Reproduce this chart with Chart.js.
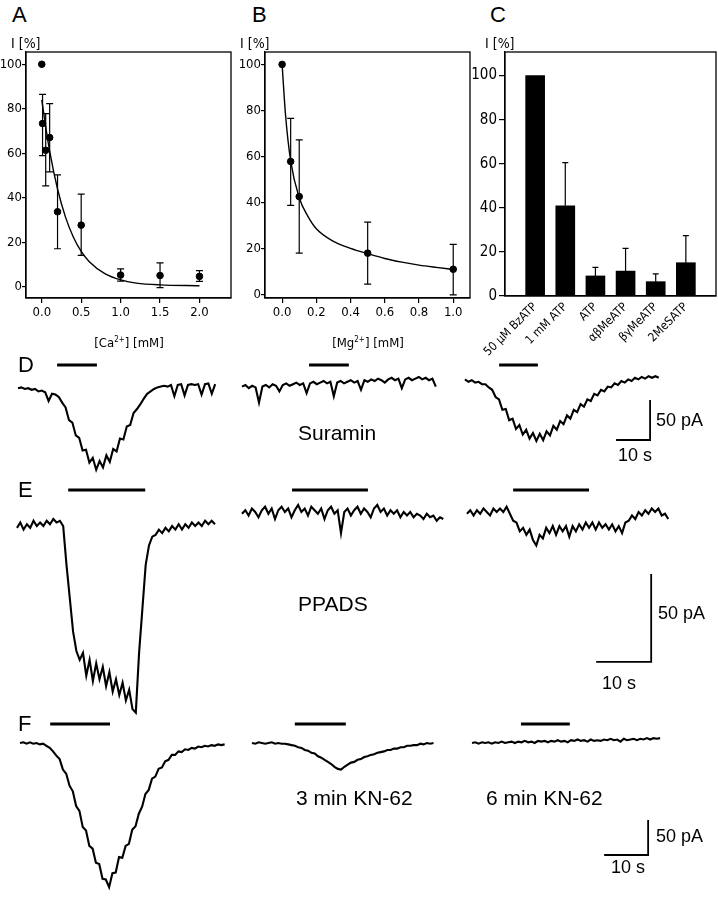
<!DOCTYPE html>
<html>
<head>
<meta charset="utf-8">
<script src="https://cdn.jsdelivr.net/npm/chart.js@4.4.1/dist/chart.umd.min.js"></script>
<style>
  body { margin: 0; background: #fff; }
  #fig { position: relative; width: 718px; height: 899px; overflow: hidden; background: #fff; }
  canvas { position: absolute; }
  .t { position: absolute; white-space: nowrap; line-height: 1; color: #000;
       font-family: 'Liberation Sans', Arial, Helvetica, sans-serif; }
  .n { font-family: 'Liberation Sans Narrow', 'Arial Narrow', 'DejaVu Sans Condensed', 'Liberation Sans', sans-serif; }
  .big { font-size: 22px; }
  .lab { font-size: 21px; }
  .sc { font-size: 18px; }
  sup { font-size: 8px; line-height: 0; }
</style>
</head>
<body>
<div id="fig">
  <canvas id="chartA" width="240" height="305" style="left:0;top:30px"></canvas>
  <canvas id="chartB" width="240" height="305" style="left:235px;top:30px"></canvas>
  <canvas id="chartC" width="250" height="330" style="left:468px;top:30px"></canvas>
  <canvas id="rowD" width="718" height="120" style="left:0;top:355px"></canvas>
  <canvas id="rowE" width="718" height="240" style="left:0;top:480px"></canvas>
  <canvas id="rowF" width="718" height="184" style="left:0;top:715px"></canvas>

  <div class="t big" style="left:12px;top:4px">A</div>
  <div class="t big" style="left:252px;top:4px">B</div>
  <div class="t big" style="left:490px;top:4px">C</div>
  <div class="t n" style="left:11px;top:36px;font-size:14px">I [%]</div>
  <div class="t n" style="left:240px;top:36px;font-size:14px">I [%]</div>
  <div class="t n" style="left:485px;top:36px;font-size:14px">I [%]</div>
  <div class="t n" style="left:129px;top:336px;font-size:13px;transform:translateX(-50%)">[Ca<sup>2+</sup>] [mM]</div>
  <div class="t n" style="left:368px;top:336px;font-size:13px;transform:translateX(-50%)">[Mg<sup>2+</sup>] [mM]</div>

  <div class="t big" style="left:18px;top:354px">D</div>
  <div class="t big" style="left:18px;top:479px">E</div>
  <div class="t big" style="left:18px;top:713px">F</div>

  <div class="t lab" style="left:298px;top:422px">Suramin</div>
  <div class="t sc" style="left:656px;top:411px">50 pA</div>
  <div class="t sc" style="left:618px;top:446px">10 s</div>

  <div class="t lab" style="left:298px;top:593px">PPADS</div>
  <div class="t sc" style="left:658px;top:604px">50 pA</div>
  <div class="t sc" style="left:602px;top:674px">10 s</div>

  <div class="t lab" style="left:296px;top:787px">3 min KN-62</div>
  <div class="t lab" style="left:486px;top:787px">6 min KN-62</div>
  <div class="t sc" style="left:656px;top:827px">50 pA</div>
  <div class="t sc" style="left:611px;top:858px">10 s</div>
</div>

<script>
// A: current vs [Ca2+]
const caConc = [0, 0.01, 0.05, 0.1, 0.2, 0.5, 1.0, 1.5, 2.0];
const caResp = [100, 73.4, 61.4, 67.1, 33.8, 27.8, 5.4, 5.2, 4.8];
const caErrLo = [null, 59, 45.4, 51.7, 17.2, 14.2, 2.7, -0.2, 2.6];
const caErrHi = [null, 86.5, 77.8, 82.3, 50.4, 41.7, 8.2, 10.9, 7.4];
const caFitX = [0, 0.05, 0.1, 0.2, 0.3, 0.4, 0.5, 0.6, 0.8, 1.0, 1.2, 1.5, 2.0];
const caFitY = [84, 72, 61, 44, 31.5, 22.5, 16, 11.5, 6, 3.2, 1.8, 1.0, 0.6];
const caTicks = [0, 0.5, 1.0, 1.5, 2.0];

// B: current vs [Mg2+]
const mgConc = [0, 0.05, 0.1, 0.5, 1.0];
const mgResp = [100, 57.8, 42.5, 17.9, 10.9];
const mgErrLo = [null, 38.7, 17.9, 4.4, -0.2];
const mgErrHi = [null, 76.5, 67.2, 31.4, 21.7];
const mgFitX = [0, 0.02, 0.05, 0.1, 0.15, 0.2, 0.3, 0.4, 0.5, 0.6, 0.7, 0.8, 0.9, 1.0];
const mgFitY = [100, 78, 58, 42, 34, 28.5, 23, 20, 17.7, 15.6, 14, 12.7, 11.7, 10.8];
const mgTicks = [0, 0.2, 0.4, 0.6, 0.8, 1.0];

const pctTicks = [0, 20, 40, 60, 80, 100];

// C: agonists
const agonists = ['50 µM BzATP', '1 mM ATP', 'ATP', 'αβMeATP', 'βγMeATP', '2MeSATP'];
const agonistResp = [100, 40.9, 9.1, 11.3, 6.5, 15.1];
const agonistErrHi = [null, 60.5, 13, 21.6, 10, 27.4];

// D-F current traces (pA), one sample per dt seconds
const traceD1 = [-4, -3, -5, -4, -6, -5, -8, -7, -9, -20, -11, -12, -15, -22, -28, -44, -47, -63, -66, -82, -81, -97, -91, -106, -95, -103, -88, -96, -80, -83, -67, -68, -52, -50, -35, -30, -24, -17, -11, -8, -5, -3, -2, -1, -2, 0, -14, 0, 1, -13, 0, 1, 0, 1, -12, 1, 2, -11, 1];
const traceD2 = [-2, 0, -4, -1, -3, -22, -2, 0, -3, 1, -1, -8, 0, 2, -1, 1, 3, 0, 2, -10, 2, 4, 1, 3, 5, 2, 4, -14, 3, 5, 2, 4, 6, 3, 5, -6, 6, 4, 7, 5, 8, 6, 3, 7, 9, 6, 8, -4, 7, 9, 6, 8, 10, 7, 9, 6, 8, -2];
const traceD3 = [7, 4, 6, 3, 4, 1, 1, -3, -6, -15, -18, -31, -30, -44, -42, -55, -50, -62, -56, -67, -60, -70, -61, -69, -58, -63, -51, -56, -45, -49, -38, -42, -31, -34, -24, -27, -18, -20, -11, -13, -6, -8, -2, -3, 2, 0, 5, 3, 7, 5, 9, 7, 10, 8, 11, 9, 11, 9];

const traceE1 = [-9, -6, -10, -7, -9, -5, -8, -6, -8, -5, -7, -4, -6, -5, -8, -30, -49, -68, -79, -84, -80, -93, -84, -96, -86, -95, -88, -99, -91, -102, -95, -104, -97, -107, -101, -112, -114, -80, -55, -30, -19, -14, -13, -10, -12, -9, -11, -8, -10, -7, -10, -7, -9, -6, -8, -6, -8, -5, -7, -5, -7];
const traceE2 = [-1, 1, -2, 2, 0, -3, 1, 3, -1, 2, -4, 1, 3, 0, 2, -3, 1, 4, 0, 2, -2, 3, 1, -1, 2, -4, 1, 3, -1, 1, -12, 0, 2, -2, 1, 3, -1, 2, 0, -3, 2, 4, 0, 2, -2, 1, -1, 1, -3, 0, -2, 0, -3, -1, -2, -4, -1, -3, -2, -5, -3, -4];
const traceE3 = [-1, 1, -2, 1, -1, 2, 0, -2, 2, 0, 2, 0, 3, -1, -5, -6, -11, -9, -13, -10, -16, -19, -13, -15, -9, -12, -8, -13, -8, -11, -8, -14, -8, -11, -7, -10, -6, -9, -6, -10, -6, -9, -7, -10, -7, -11, -8, -12, -6, -5, -2, -4, 0, -2, 1, -1, 2, 0, 2, -2, -1, -4];

const traceF1 = [0, 1, -1, 1, -1, 0, -2, -1, -4, -7, -12, -18, -23, -38, -44, -61, -69, -90, -97, -120, -125, -147, -151, -171, -173, -194, -195, -206, -186, -185, -163, -164, -147, -144, -124, -119, -101, -91, -73, -67, -51, -48, -37, -35, -26, -24, -17, -17, -12, -13, -9, -10, -7, -8, -5, -6, -4, -5, -3, -4, -2, -3, -2];
const traceF2 = [0, -1, 1, 0, -1, 0, 1, -1, 0, -1, -1, -2, -3, -4, -6, -7, -10, -11, -14, -15, -19, -21, -24, -27, -30, -34, -37, -38, -34, -31, -28, -27, -24, -23, -20, -19, -17, -16, -14, -13, -12, -10, -10, -8, -8, -6, -6, -4, -4, -3, -3, -1, -2, 0, -1, 0];
const traceF3 = [0, 1, -1, 1, 0, 1, -1, 1, 0, 2, 0, 1, 2, 0, 2, 1, 3, 1, 2, 0, 3, 2, 3, 1, 3, 2, 4, 2, 3, 1, 4, 3, 5, 3, 4, 2, 5, 3, 4, 3, 5, 4, 6, 4, 5, 2, 6, 4, 5, 6, 4, 6, 5, 7, 5, 7, 6, 7];

// agonist application bars (s)
const stimD = [[16.8, 28.5], [90.9, 102.6], [146.8, 158.2]];
const stimE = [[12.4, 26.4], [53.1, 66.9], [93.3, 107.1]];
const stimF = [[11.4, 25.0], [67.0, 78.6], [118.4, 129.5]];

const scaleTime = 10;     // s
const scaleCurrent = 50;  // pA

const tickFont = "'Liberation Sans Narrow', 'Arial Narrow', 'DejaVu Sans Condensed', 'Liberation Sans', sans-serif";

const frameBox = {
    id: 'frameBox',
    afterDraw(chart) {
        const a = chart.chartArea;
        const ctx = chart.ctx;
        ctx.save();
        ctx.strokeStyle = '#000';
        ctx.lineWidth = 1.3;
        ctx.strokeRect(a.left, a.top, a.right - a.left, a.bottom - a.top);
        ctx.restore();
    }
};

const errorBars = {
    id: 'errorBars',
    afterDatasetsDraw(chart, args, opts) {
        if (!opts.xs) return;
        const ctx = chart.ctx;
        const x = chart.scales.x, y = chart.scales.y;
        ctx.save();
        ctx.strokeStyle = '#000';
        ctx.lineWidth = 1.2;
        ctx.beginPath();
        opts.xs.forEach((xv, i) => {
            if (opts.hi[i] == null) return;
            const px = x.getPixelForValue(xv);
            const top = y.getPixelForValue(opts.hi[i]);
            const bot = y.getPixelForValue(opts.lo[i]);
            ctx.moveTo(px, top); ctx.lineTo(px, bot);
            ctx.moveTo(px - opts.cap, top); ctx.lineTo(px + opts.cap, top);
            if (opts.lowerCap) { ctx.moveTo(px - opts.cap, bot); ctx.lineTo(px + opts.cap, bot); }
        });
        ctx.stroke();
        ctx.restore();
    }
};

function axisStyle(size, tickLen, pad) {
    return {
        grid: { display: true, drawOnChartArea: false, drawTicks: true, tickLength: tickLen, color: '#000', lineWidth: 1.2 },
        border: { display: true, color: '#000', width: 1.2 },
        ticks: { color: '#000', font: { family: tickFont, size: size }, padding: pad, autoSkip: false, maxRotation: 0 }
    };
}

function doseChart(id, xs, ys, lo, hi, fitX, fitY, xTicks, xRange, yRange, yAxisW, padRight, digits) {
    const xAxis = axisStyle(13, 5, 2);
    const yAxis = axisStyle(13, 4, 0);
    new Chart(document.getElementById(id), {
        type: 'scatter',
        data: {
            datasets: [{
                data: xs.map((v, i) => ({ x: v, y: ys[i] })),
                pointRadius: 3.3, backgroundColor: '#000', borderColor: '#000', showLine: false
            }, {
                data: fitX.map((v, i) => ({ x: v, y: fitY[i] })),
                pointRadius: 0, borderColor: '#000', borderWidth: 1.4, showLine: true,
                cubicInterpolationMode: 'monotone'
            }]
        },
        options: {
            animation: false, responsive: false, devicePixelRatio: 1,
            layout: { padding: { top: 22, right: padRight, left: 0, bottom: 0 } },
            plugins: {
                legend: { display: false }, tooltip: { enabled: false },
                errorBars: { xs: xs, lo: lo, hi: hi, cap: 3.5, lowerCap: true }
            },
            scales: {
                x: Object.assign(xAxis, {
                    type: 'linear', min: xRange[0], max: xRange[1],
                    afterBuildTicks: s => { s.ticks = xTicks.map(v => ({ value: v })); },
                    afterFit: s => { s.height = 37; }
                }),
                y: Object.assign(yAxis, {
                    min: yRange[0], max: yRange[1],
                    afterBuildTicks: s => { s.ticks = pctTicks.map(v => ({ value: v })); },
                    afterFit: s => { s.width = yAxisW; }
                })
            }
        },
        plugins: [frameBox, errorBars]
    });
    Chart.getChart(id).options.scales.x.ticks.callback = v => v.toFixed(digits);
    Chart.getChart(id).update();
}

doseChart('chartA', caConc, caResp, caErrLo, caErrHi, caFitX, caFitY, caTicks, [-0.2, 2.4], [-4.9, 105.5], 26, 9, 1);
doseChart('chartB', mgConc, mgResp, mgErrLo, mgErrHi, mgFitX, mgFitY, mgTicks, [-0.1, 1.098], [-1.6, 105.4], 30, 5, 1);

// C: bar chart on a linear x axis
const cx = axisStyle(12, 0, 4);
const cy = axisStyle(15, 6, 2);
cx.grid.drawTicks = false;
new Chart(document.getElementById('chartC'), {
    type: 'bar',
    data: {
        datasets: [{
            data: agonistResp.map((v, i) => ({ x: i + 1, y: v })),
            backgroundColor: '#000', barThickness: 19, borderWidth: 0
        }]
    },
    options: {
        animation: false, responsive: false, devicePixelRatio: 1,
        layout: { padding: { top: 22, right: 2, left: 0, bottom: 0 } },
        plugins: {
            legend: { display: false }, tooltip: { enabled: false },
            errorBars: { xs: agonists.map((a, i) => i + 1), lo: agonistResp, hi: agonistErrHi, cap: 3, lowerCap: false }
        },
        scales: {
            x: Object.assign(cx, {
                type: 'linear', min: 0, max: 7, offset: false,
                afterBuildTicks: s => { s.ticks = agonists.map((a, i) => ({ value: i + 1 })); },
                afterFit: s => { s.height = 64; }
            }),
            y: Object.assign(cy, {
                min: 0, max: 110.7,
                afterBuildTicks: s => { s.ticks = pctTicks.map(v => ({ value: v })); },
                afterFit: s => { s.width = 37; }
            })
        }
    },
    plugins: [frameBox, errorBars]
});
const chartC = Chart.getChart('chartC');
chartC.options.scales.x.grid.offset = false;
chartC.options.scales.x.ticks.minRotation = 45;
chartC.options.scales.x.ticks.maxRotation = 45;
chartC.options.scales.x.ticks.callback = v => agonists[v - 1];
chartC.update();

// rows of current traces
function traceRow(id, traces, starts, dt, stim, stimLevel, corner, xMax, yMin, yMax) {
    const ds = [];
    traces.forEach((vals, k) => {
        ds.push({ data: vals.map((v, i) => ({ x: starts[k] + i * dt, y: v })), borderWidth: 2.1 });
    });
    stim.forEach(b => {
        ds.push({ data: [{ x: b[0], y: stimLevel }, { x: b[1], y: stimLevel }], borderWidth: 3, borderCapStyle: 'butt' });
    });
    ds.push({
        data: [{ x: corner[0] - scaleTime, y: corner[1] }, { x: corner[0], y: corner[1] }, { x: corner[0], y: corner[1] + scaleCurrent }],
        borderWidth: 1.8
    });
    ds.forEach(d => Object.assign(d, { borderColor: '#000', pointRadius: 0, showLine: true, tension: 0 }));
    new Chart(document.getElementById(id), {
        type: 'scatter',
        data: { datasets: ds },
        options: {
            animation: false, responsive: false, devicePixelRatio: 1,
            layout: { padding: 0 },
            plugins: { legend: { display: false }, tooltip: { enabled: false } },
            scales: {
                x: { type: 'linear', display: false, min: 0, max: xMax },
                y: { display: false, min: yMin, max: yMax }
            }
        }
    });
}

traceRow('rowD', [traceD1, traceD2, traceD3], [5.29, 71.18, 136.76], 1.0, stimD, 25, [191.2, -68.75], 211.18, -112.5, 37.5);
traceRow('rowE', [traceE1, traceE2, traceE3], [3.09, 44.0, 84.91], 0.6, stimE, 12.5, [118.4, -85.2], 130.55, -118.18, 18.18);
traceRow('rowF', [traceF1, traceF2, traceF3], [4.55, 57.27, 107.27], 0.75, stimF, 27, [147.3, -160], 163.18, -222.86, 40);
</script>
</body>
</html>
